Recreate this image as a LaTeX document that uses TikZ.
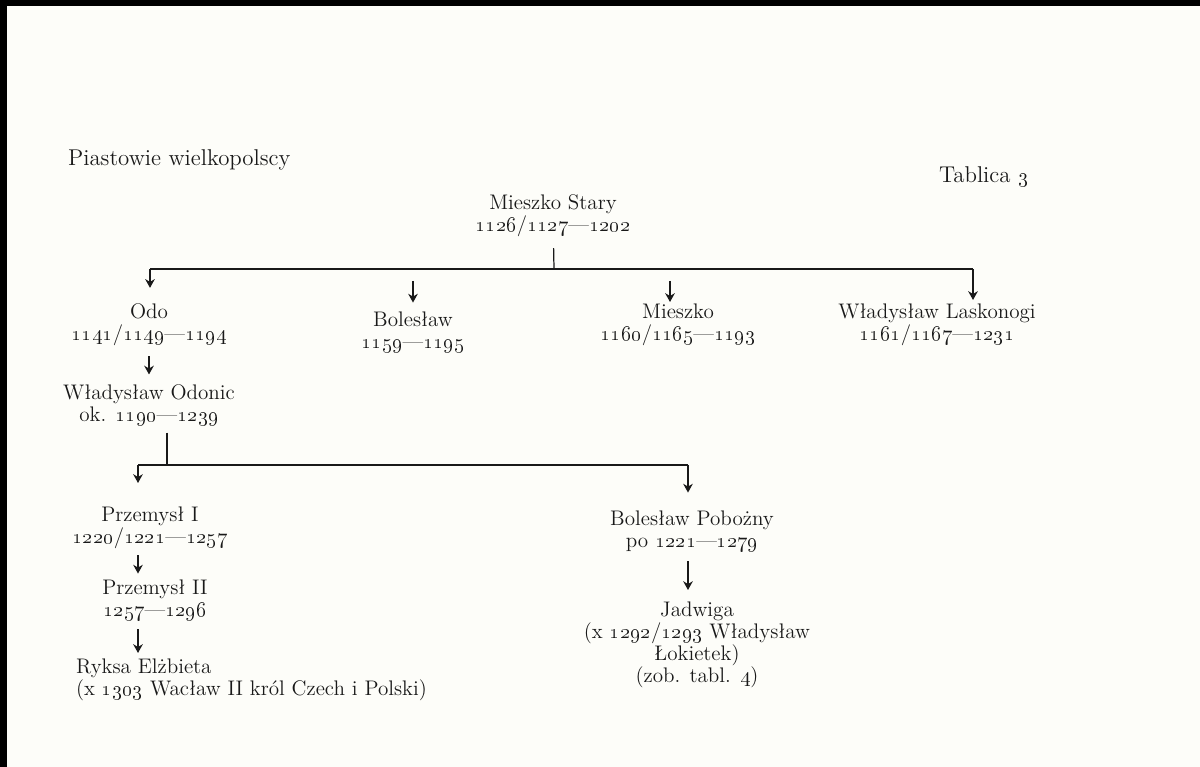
\documentclass[tikz,border=0pt]{standalone}
\usetikzlibrary{arrows.meta}

\definecolor{ink}{RGB}{25,25,25}
\definecolor{paper}{RGB}{253,253,249}
\newcommand{\yr}[1]{\oldstylenums{#1}}

\begin{document}
\begin{tikzpicture}[x=0.02cm, y=-0.02cm,
    person/.style={align=center, inner sep=1pt, text=ink, font=\fontsize{12}{12.5}\selectfont},
    arr/.style={draw=ink, line width=0.6pt, -{Stealth[length=5pt, width=5.5pt]}},
    bus/.style={draw=ink, line width=0.7pt}]
    \fill[paper] (0, 0) rectangle (1200, 767);
    \fill[black] (0, 0) rectangle (1200, 6);
    \fill[black] (0, 0) rectangle (7, 767);

    \node[person, anchor=west, font=\fontsize{13}{14}\selectfont] (t0) at (66, 160) {Piastowie wielkopolscy};
    \node[person, anchor=west, font=\fontsize{13}{14}\selectfont] (t1) at (937, 177) {Tablica \yr{3}};

    \node[person] (0) at (553, 216) {Mieszko Stary\\\yr{1126}/\yr{1127}—\yr{1202}};
    \node[person] (1) at (149, 325) {Odo\\\yr{1141}/\yr{1149}—\yr{1194}};
    \node[person] (2) at (413, 332) {Bolesław\\\yr{1159}—\yr{1195}};
    \node[person] (3) at (678, 325) {Mieszko\\\yr{1160}/\yr{1165}—\yr{1193}};
    \node[person] (4) at (937, 325) {Władysław Laskonogi\\\yr{1161}/\yr{1167}—\yr{1231}};
    \node[person] (5) at (149, 405) {Władysław Odonic\\ok. \yr{1190}—\yr{1239}};
    \node[person] (6) at (150, 528) {Przemysł I\\\yr{1220}/\yr{1221}—\yr{1257}};
    \node[person] (7) at (155, 600) {Przemysł II\\\yr{1257}—\yr{1296}};
    \node[person, anchor=west, align=left] (8) at (74, 680) {Ryksa Elżbieta\\(x \yr{1303} Wacław II król Czech i Polski)};
    \node[person] (9) at (692, 531) {Bolesław Pobożny\\po \yr{1221}—\yr{1279}};
    \node[person] (10) at (697, 645) {Jadwiga\\(x \yr{1292}/\yr{1293} Władysław\\Łokietek)\\(zob. tabl. \yr{4})};

    \coordinate (b0) at (554, 269);
    \coordinate (b1) at (150, 269);
    \coordinate (b4) at (973, 269);
    \draw[bus, shorten <=0.18cm] (0) -- (b0);
    \draw[bus] (b1) -- (b4);
    \draw[arr, shorten >=0.28cm] (b1) -- (1.north -| b1);
    \draw[arr, shorten <=0.24cm, shorten >=0.14cm] (b0 -| 2) -- (2);
    \draw[arr, shorten <=0.24cm] (b0 -| 670,0) -- (3.north -| 670,0);
    \draw[arr, shorten >=0.04cm] (b4) -- (4.north -| b4);
    \draw[arr, shorten <=0.16cm, shorten >=0.16cm] (1) -- (5);

    \coordinate (c0) at (167, 465);
    \coordinate (c1) at (138, 465);
    \coordinate (c2) at (688, 465);
    \draw[bus, shorten <=0.1cm] (5.south -| c0) -- (c0);
    \draw[bus] (c1) -- (c2);
    \draw[arr, shorten >=0.44cm] (c1) -- (6.north -| c1);
    \draw[arr, shorten >=0.32cm] (c2) -- (9.north -| c2);
    \draw[arr, shorten <=0.08cm, shorten >=0.08cm] (6.south -| c1) -- (7.north -| c1);
    \draw[arr, shorten <=0.14cm, shorten >=0.08cm] (7.south -| c1) -- (8.north -| c1);
    \draw[arr, shorten <=0.16cm, shorten >=0.2cm] (9.south -| c2) -- (10.north -| c2);
\end{tikzpicture}
\end{document}
